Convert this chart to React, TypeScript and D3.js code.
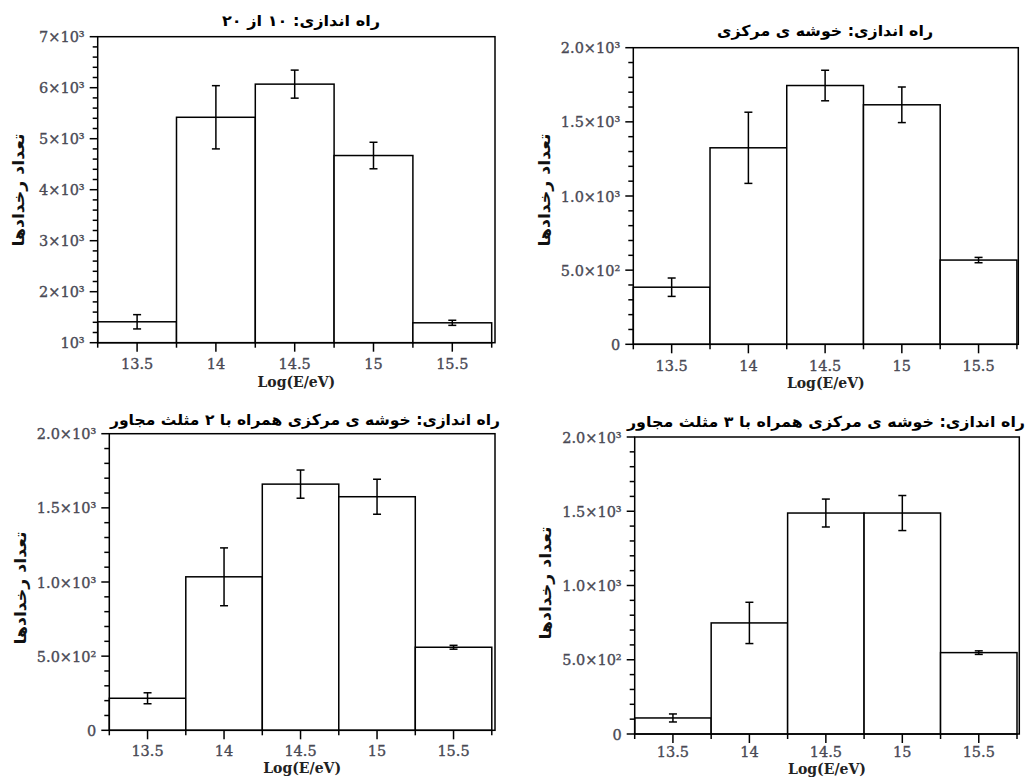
import React from "react";
import * as d3 from "d3";

// ---- data ----
const binCenters = [13.5, 14, 14.5, 15, 15.5];
const binHalf = 0.25;

const counts10of20 = [1410, 5420, 6070, 4670, 1390];
const errors10of20 = [140, 620, 275, 260, 50];
const countsCentral = [385, 1325, 1745, 1615, 568];
const errorsCentral = [62, 240, 103, 120, 18];
const countsCentral2 = [216, 1035, 1660, 1575, 560];
const errorsCentral2 = [37, 195, 95, 118, 13];
const countsCentral3 = [108, 748, 1488, 1488, 548];
const errorsCentral3 = [27, 139, 94, 118, 12];

const xTickValues = [13.5, 14, 14.5, 15, 15.5];
const xTickLabels = ["13.5", "14", "14.5", "15", "15.5"];
const xMinorValues = [13.25, 13.75, 14.25, 14.75, 15.25, 15.75];

const yTicksA = [1000, 2000, 3000, 4000, 5000, 6000, 7000];
const yLabelsA = ["10³", "2×10³", "3×10³", "4×10³", "5×10³", "6×10³", "7×10³"];
const yTicksB = [0, 500, 1000, 1500, 2000];
const yLabelsB = ["0", "5.0×10²", "1.0×10³", "1.5×10³", "2.0×10³"];

const titles = [
  "راه اندازی: ۱۰ از ۲۰",
  "راه اندازی: خوشه ی مرکزی",
  "راه اندازی: خوشه ی مرکزی همراه با ۲ مثلث مجاور",
  "راه اندازی: خوشه ی مرکزی همراه با ۳ مثلث مجاور",
];
const yTitle = "تعداد رخدادها";
const xTitle = "Log(E/eV)";

// ---- layout ----
type Panel = {
  counts: number[];
  errors: number[];
  yTicks: number[];
  yLabels: string[];
  yDomain: [number, number];
  yMinorStep: number;
  xMax: number;
  left: number; right: number; top: number; bottom: number;
  tickDy: number; xTitleDy: number;
  title: string; titleX: number; titleY: number; titleLen: number;
  yTitleX: number; yTitleY: number;
};

const panels: Panel[] = [
  {
    counts: counts10of20, errors: errors10of20, yTicks: yTicksA, yLabels: yLabelsA,
    yDomain: [1000, 7000], yMinorStep: 200, xMax: 15.771,
    left: 97.7, right: 495, top: 36.7, bottom: 342.7, tickDy: 26, xTitleDy: 44,
    title: titles[0], titleX: 301, titleY: 26, titleLen: 158,
    yTitleX: 24, yTitleY: 190,
  },
  {
    counts: countsCentral, errors: errorsCentral, yTicks: yTicksB, yLabels: yLabelsB,
    yDomain: [0, 2000], yMinorStep: 100, xMax: 15.759,
    left: 633.3, right: 1018.3, top: 47.7, bottom: 344.3, tickDy: 26.5, xTitleDy: 43.5,
    title: titles[1], titleX: 825, titleY: 36, titleLen: 216,
    yTitleX: 550, yTitleY: 190,
  },
  {
    counts: countsCentral2, errors: errorsCentral2, yTicks: yTicksB, yLabels: yLabelsB,
    yDomain: [0, 2000], yMinorStep: 100, xMax: 15.771,
    left: 109.3, right: 495, top: 433.7, bottom: 730.3, tickDy: 25.5, xTitleDy: 43,
    title: titles[2], titleX: 305, titleY: 425, titleLen: 390,
    yTitleX: 26, yTitleY: 588,
  },
  {
    counts: countsCentral3, errors: errorsCentral3, yTicks: yTicksB, yLabels: yLabelsB,
    yDomain: [0, 2000], yMinorStep: 100, xMax: 15.765,
    left: 634.7, right: 1019.3, top: 437, bottom: 734, tickDy: 22.5, xTitleDy: 39.5,
    title: titles[3], titleX: 826, titleY: 427, titleLen: 398,
    yTitleX: 551, yTitleY: 583,
  },
];

const tickFont = "'DejaVu Serif', serif";
const arFont = "'DejaVu Sans', sans-serif";

function PanelView({ p }: { p: Panel }) {
  const x = d3.scaleLinear().domain([13.25, p.xMax]).range([p.left, p.right]);
  const y = d3.scaleLinear().domain(p.yDomain).range([p.bottom, p.top]);
  const minors = d3.range(p.yDomain[0], p.yDomain[1] + 1e-9, p.yMinorStep)
    .filter((v) => !p.yTicks.includes(v));
  const sw = 1.5;
  const tickText = { fontFamily: tickFont, fontSize: 14.5, fill: "#4a4a55", stroke: "#4a4a55", strokeWidth: 0.35 };
  return (
    <g>
      {binCenters.map((c, i) => (
        <rect key={"b" + i}
          x={x(c - binHalf)} y={y(p.counts[i])}
          width={x(c + binHalf) - x(c - binHalf)}
          height={y(p.yDomain[0]) - y(p.counts[i])}
          fill="#fff" stroke="#000" strokeWidth={sw} />
      ))}
      {binCenters.map((c, i) => {
        const cx = x(c);
        const y1 = y(p.counts[i] + p.errors[i]);
        const y2 = y(p.counts[i] - p.errors[i]);
        return (
          <g key={"e" + i} stroke="#000" strokeWidth={sw}>
            <line x1={cx} x2={cx} y1={y1} y2={y2} />
            <line x1={cx - 4} x2={cx + 4} y1={y1} y2={y1} />
            <line x1={cx - 4} x2={cx + 4} y1={y2} y2={y2} />
          </g>
        );
      })}
      <rect x={p.left} y={p.top} width={p.right - p.left} height={p.bottom - p.top}
        fill="none" stroke="#000" strokeWidth={sw} />
      {/* y ticks */}
      {p.yTicks.map((v, i) => (
        <g key={"yt" + i}>
          <line x1={p.left - 8} x2={p.left} y1={y(v)} y2={y(v)} stroke="#000" strokeWidth={sw} />
          <text x={p.left - 13} y={y(v) + 5.5} textAnchor="end" {...tickText}>{p.yLabels[i]}</text>
        </g>
      ))}
      {minors.map((v, i) => (
        <line key={"ym" + i} x1={p.left - 5} x2={p.left} y1={y(v)} y2={y(v)} stroke="#000" strokeWidth={sw} />
      ))}
      {/* x ticks */}
      {xTickValues.map((v, i) => (
        <g key={"xt" + i}>
          <line x1={x(v)} x2={x(v)} y1={p.bottom} y2={p.bottom + 9} stroke="#000" strokeWidth={sw} />
          <text x={x(v)} y={p.bottom + p.tickDy} textAnchor="middle" {...tickText}>{xTickLabels[i]}</text>
        </g>
      ))}
      {xMinorValues.map((v, i) => (
        <line key={"xm" + i} x1={x(v)} x2={x(v)} y1={p.bottom} y2={p.bottom + 5} stroke="#000" strokeWidth={sw} />
      ))}
      <text x={(p.left + p.right) / 2} y={p.bottom + p.xTitleDy} textAnchor="middle" fontFamily={tickFont}
        fontWeight="bold" fontSize={14} fill="#222">{xTitle}</text>
      <text x={p.titleX} y={p.titleY} textAnchor="middle" direction="rtl" fontFamily={arFont}
        fontWeight="bold" fontSize={15} fill="#000" textLength={p.titleLen}
        lengthAdjust="spacingAndGlyphs">{p.title}</text>
      <text transform={`translate(${p.yTitleX},${p.yTitleY}) rotate(-90)`} textAnchor="middle"
        direction="rtl" fontFamily={arFont} fontWeight="bold" fontSize={16} fill="#111"
        textLength={113} lengthAdjust="spacingAndGlyphs">{yTitle}</text>
    </g>
  );
}

export default function App() {
  return (
    <svg width={1027} height={778} style={{ position: "absolute", left: 0, top: 0, background: "#fff" }}>
      <rect width={1027} height={778} fill="#fff" />
      {panels.map((p, i) => <PanelView key={i} p={p} />)}
    </svg>
  );
}
